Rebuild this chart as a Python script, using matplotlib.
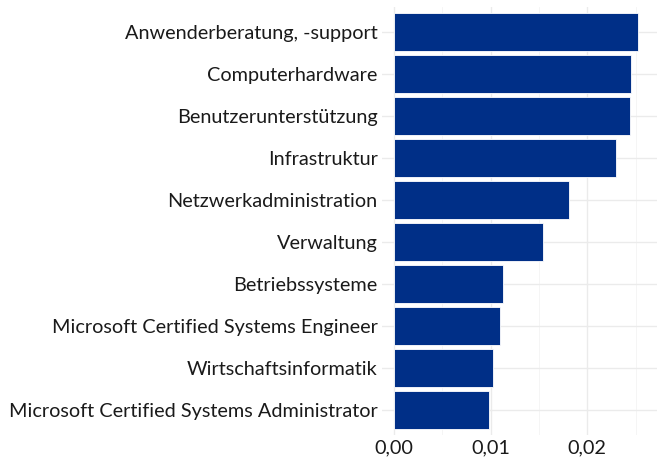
import matplotlib.pyplot as plt
import numpy as np
from matplotlib.ticker import FuncFormatter, MultipleLocator

plt.rcParams['font.family'] = ['Lato', 'DejaVu Sans']

categories = [
    "Anwenderberatung, -support",
    "Computerhardware",
    "Benutzerunterstützung",
    "Infrastruktur",
    "Netzwerkadministration",
    "Verwaltung",
    "Betriebssysteme",
    "Microsoft Certified Systems Engineer",
    "Wirtschaftsinformatik",
    "Microsoft Certified Systems Administrator",
]
values = [0.0252, 0.0245, 0.0244, 0.0230, 0.0181, 0.0154, 0.0113, 0.0110, 0.0103, 0.0098]

fig = plt.figure(figsize=(6.57, 4.57), dpi=100)
ax = fig.add_axes([0.581, 0.048, 0.419, 0.937])

y = np.arange(len(categories))[::-1]
ax.barh(y, values, height=0.9, color="#002F87", edgecolor="white", linewidth=0.6, zorder=3)

ax.set_yticks(y)
ax.set_yticklabels(categories)
ax.set_ylim(-0.6, len(categories) - 0.4)
vmax = max(values)
ax.set_xlim(-0.05 * vmax, 1.08 * vmax)
ax.xaxis.set_major_locator(MultipleLocator(0.01))
ax.xaxis.set_minor_locator(MultipleLocator(0.005))
ax.xaxis.set_major_formatter(FuncFormatter(lambda v, p: f"{v:.2f}".replace(".", ",")))

ax.grid(which="major", color="#ebebeb", linewidth=1.0, zorder=0)
ax.grid(which="minor", axis="x", color="#f4f4f4", linewidth=0.6, zorder=0)
for s in ax.spines.values():
    s.set_visible(False)
ax.tick_params(which="both", length=0, labelsize=14.3, labelcolor="#1a1a1a")
ax.tick_params(axis="y", pad=3)
ax.tick_params(axis="x", pad=3)

fig.savefig("out.png", dpi=100)
